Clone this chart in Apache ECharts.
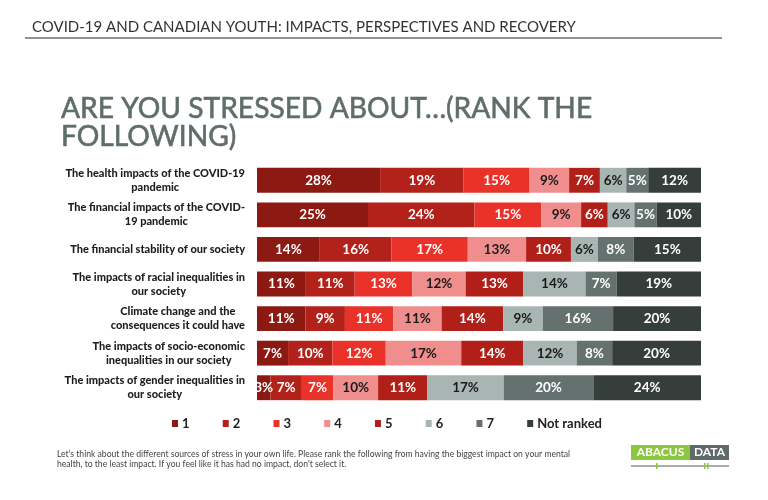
<!DOCTYPE html>
<html>
<head>
<meta charset="utf-8">
<script src="https://cdn.jsdelivr.net/npm/echarts@6/dist/echarts.min.js"></script>
<style>html,body{margin:0;padding:0;background:#fff}#c{width:768px;height:500px}</style>
</head>
<body>
<div id="c"></div>
<script>
var categories = [
  "The health impacts of the COVID-19\npandemic",
  "The financial impacts of the COVID-\n19 pandemic",
  "The financial stability of our society",
  "The impacts of racial inequalities in\nour society",
  "Climate change and the\nconsequences it could have",
  "The impacts of socio-economic\ninequalities in our society",
  "The impacts of gender inequalities in\nour society"
];
var seriesNames = ["1", "2", "3", "4", "5", "6", "7", "Not ranked"];
var rank1 = [28, 25, 14, 11, 11, 7, 3];
var rank2 = [19, 24, 16, 11, 9, 10, 7];
var rank3 = [15, 15, 17, 13, 11, 12, 7];
var rank4 = [9, 9, 13, 12, 11, 17, 10];
var rank5 = [7, 6, 10, 13, 14, 14, 11];
var rank6 = [6, 6, 6, 14, 9, 12, 17];
var rank7 = [5, 5, 8, 7, 16, 8, 20];
var notRanked = [12, 10, 15, 19, 20, 20, 24];
var seriesValues = [rank1, rank2, rank3, rank4, rank5, rank6, rank7, notRanked];

var colors = ["#8c1a13", "#b3221a", "#e9322a", "#f08e8d", "#b11f19", "#a9b5b3", "#65716f", "#363e3c"];
var labelColors = ["#fff", "#fff", "#fff", "#1a1a1a", "#fff", "#1a1a1a", "#fff", "#fff"];

var rowSums = categories.map(function (c, i) {
  return seriesValues.reduce(function (s, arr) { return s + arr[i]; }, 0);
});

var chart = echarts.init(document.getElementById('c'), null, {renderer: 'canvas'});

var series = seriesValues.map(function (arr, k) {
  return {
    name: seriesNames[k],
    type: 'bar',
    stack: 'total',
    barCategoryGap: '28%',
    itemStyle: {color: colors[k]},
    label: {
      show: true,
      position: 'inside',
      color: labelColors[k],
      fontFamily: 'Lato',
      fontWeight: 'bold',
      fontSize: 13.5,
      formatter: function (p) { return arr[p.dataIndex] + '%'; }
    },
    data: arr.map(function (v, i) { return v / rowSums[i] * 100; })
  };
});

var option = {
  animation: false,
  backgroundColor: '#fff',
  title: [
    {
      text: 'COVID-19 AND CANADIAN YOUTH: IMPACTS, PERSPECTIVES AND RECOVERY',
      left: 27, top: 15,
      textStyle: {fontFamily: 'Lato', fontWeight: 'normal', fontSize: 15, color: '#333'}
    },
    {
      text: 'ARE YOU STRESSED ABOUT…(RANK THE\nFOLLOWING)',
      left: 56, top: 90,
      textStyle: {fontFamily: 'Lato', fontWeight: 'normal', fontSize: 28.2, lineHeight: 28, color: '#5f6d6b', textBorderColor: '#5f6d6b', textBorderWidth: 0.6}
    }
  ],
  legend: {
    data: seriesNames,
    left: 172, top: 417, padding: 0,
    icon: 'rect',
    itemWidth: 6, itemHeight: 7,
    itemGap: 33.2,
    textStyle: {fontFamily: 'Lato', fontWeight: 'bold', fontSize: 13, color: '#222', padding: [0, 0, 0, -1]}
  },
  grid: {left: 257, right: 67, top: 163, bottom: 95},
  xAxis: {type: 'value', min: 0, max: 100, show: false},
  yAxis: {
    type: 'category',
    inverse: true,
    data: categories,
    axisLine: {show: false},
    axisTick: {show: false},
    axisLabel: {
      margin: 12,
      align: 'right',
      formatter: function (v) {
        return v.split('\n').map(function (l) { return '{c|' + l + '}'; }).join('\n');
      },
      rich: {
        c: {align: 'center', fontFamily: 'Lato', fontWeight: 900, fontSize: 11, lineHeight: 14, color: '#1e1e1e'}
      }
    }
  },
  graphic: [
    {type: 'line', shape: {x1: 25, y1: 38, x2: 722, y2: 38}, style: {stroke: '#6f6f6f', lineWidth: 1.5}},
    {type: 'text', left: 57, top: 449, style: {
      text: "Let's think about the different sources of stress in your own life. Please rank the following from having the biggest impact on your mental\nhealth, to the least impact. If you feel like it has had no impact, don't select it.",
      fontFamily: 'Lato', fontSize: 8.6, lineHeight: 10, fill: '#444'}},
    {type: 'rect', shape: {x: 631, y: 445, width: 59, height: 15}, style: {fill: '#8dc63f'}},
    {type: 'rect', shape: {x: 690, y: 445, width: 39, height: 15}, style: {fill: '#5f6b6b'}},
    {type: 'text', x: 660.5, y: 452.5, style: {text: 'ABACUS', fontFamily: 'Lato', fontWeight: 'bold', fontSize: 12, fill: '#fff', align: 'center', verticalAlign: 'middle'}},
    {type: 'text', x: 709.5, y: 452.5, style: {text: 'DATA', fontFamily: 'Lato', fontWeight: 'bold', fontSize: 12, fill: '#fff', align: 'center', verticalAlign: 'middle'}},
    {type: 'line', shape: {x1: 631, y1: 466, x2: 729, y2: 466}, style: {stroke: '#8a9493', lineWidth: 1.5}},
    {type: 'rect', shape: {x: 656, y: 463, width: 1.5, height: 6}, style: {fill: '#8dc63f'}},
    {type: 'rect', shape: {x: 704, y: 463, width: 1.5, height: 6}, style: {fill: '#8dc63f'}},
    {type: 'rect', shape: {x: 707, y: 463, width: 1.5, height: 6}, style: {fill: '#8dc63f'}}
  ],
  series: series
};
chart.setOption(option);
</script>
</body>
</html>
